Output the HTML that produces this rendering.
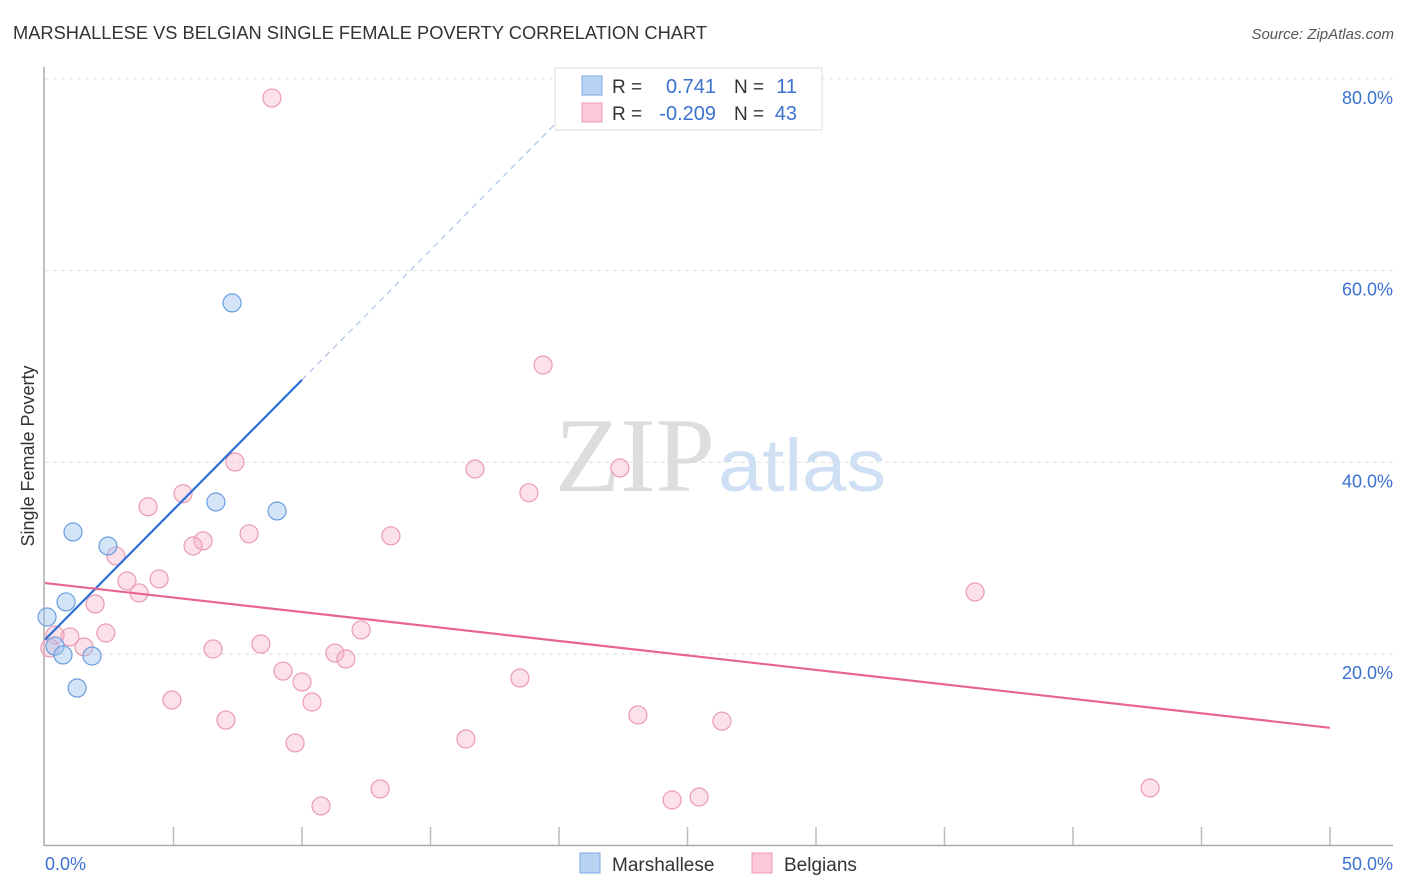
<!DOCTYPE html>
<html><head><meta charset="utf-8"><style>
body{margin:0;background:#fff;font-family:"Liberation Sans",sans-serif}
svg{display:block}
</style></head><body>
<svg id="chart" width="1406" height="892">
<text x="13" y="39" font-size="18" fill="#333" textLength="694" lengthAdjust="spacingAndGlyphs">MARSHALLESE VS BELGIAN SINGLE FEMALE POVERTY CORRELATION CHART</text>
<text x="1394" y="39" font-size="15" fill="#555" font-style="italic" text-anchor="end">Source: ZipAtlas.com</text>
<g id="grid"></g>
<text x="635" y="491" font-size="106" font-family="Liberation Serif,serif" fill="#ddd" text-anchor="middle" textLength="160" lengthAdjust="spacingAndGlyphs">ZIP</text>
<text x="802" y="491" font-size="74" fill="#cfe0f5" text-anchor="middle" textLength="168" lengthAdjust="spacingAndGlyphs">atlas</text>
<g id="marks"></g>
<text transform="translate(34,456) rotate(-90)" font-size="18" fill="#333" text-anchor="middle">Single Female Poverty</text>
<g>
<rect x="555" y="68" width="267" height="62" fill="#fff" stroke="#ddd"/>
<rect x="582" y="76" width="20" height="19" fill="#b9d3f5" stroke="#7aa7e6"/>
<rect x="582" y="103" width="20" height="19" fill="#fac8d6" stroke="#ee9ab4"/>
<text x="612" y="93" font-size="19" fill="#333">R =</text>
<text x="716" y="93" font-size="20" fill="#3b72d0" text-anchor="end">0.741</text>
<text x="734" y="93" font-size="19" fill="#333">N =</text>
<text x="797" y="93" font-size="20" fill="#3b72d0" text-anchor="end">11</text>
<text x="612" y="120" font-size="19" fill="#333">R =</text>
<text x="716" y="120" font-size="20" fill="#3b72d0" text-anchor="end">-0.209</text>
<text x="734" y="120" font-size="19" fill="#333">N =</text>
<text x="797" y="120" font-size="20" fill="#3b72d0" text-anchor="end">43</text>
</g>
<g>
<rect x="580" y="853" width="20" height="20" fill="#b9d3f5" stroke="#7aa7e6"/>
<text x="612" y="871" font-size="19" fill="#333">Marshallese</text></g>
<g>
<rect x="752" y="853" width="20" height="20" fill="#fac8d6" stroke="#ee9ab4"/>
<text x="784" y="871" font-size="19" fill="#333">Belgians</text></g>
</svg>
<script>
const blueX=[0.08,0.39,0.70,0.82,1.09,1.25,1.83,2.45,6.65,7.28,9.03];
const blueY=[23.86,20.83,19.90,25.43,32.73,16.45,19.79,31.27,35.86,56.63,34.92];
const pinkX=[8.83,19.38,7.39,16.73,22.37,18.83,5.37,4.01,13.46,7.94,6.15,5.76,2.76,4.44,3.19,3.66,36.19,1.95,12.30,2.37,0.97,0.39,0.19,1.52,8.40,6.54,11.28,11.71,9.26,10.00,18.48,10.39,4.94,7.04,23.07,26.34,9.73,16.38,13.04,10.74,24.40,25.45,43.00];
const pinkY=[78.0,50.15,40.03,39.30,39.41,36.83,36.72,35.36,32.33,32.54,31.81,31.27,30.23,27.83,27.62,26.37,26.47,25.22,22.51,22.19,21.78,21.98,20.63,20.73,21.04,20.52,20.10,19.48,18.22,17.08,17.50,14.99,15.20,13.11,13.64,13.00,10.72,11.13,5.92,4.14,4.77,5.08,6.02];
const yTicks=[20,40,60,80];
const xTickLabels=["0.0%","50.0%"];
const blueTrend=[21.5,2.71]; // intercept, slope
const pinkTrend=[27.4,-0.302];
const NS='http://www.w3.org/2000/svg';
const sx=v=>45+v*25.7, sy=v=>845.7-v*9.585;
function mk(t,a,p){const e=document.createElementNS(NS,t);for(const k in a)e.setAttribute(k,a[k]);p.appendChild(e);return e;}
const grid=document.getElementById('grid'),marks=document.getElementById('marks');
yTicks.forEach(t=>{
 const l=mk('line',{x1:45,x2:1393,y1:sy(t),y2:sy(t),stroke:'#ddd','stroke-dasharray':'4,4'},grid);
 
 
 const tx=mk('text',{x:1393,y:sy(t)+25,'font-size':18,fill:'#3b72d0','text-anchor':'end'},grid);tx.textContent=t.toFixed(1)+'%';
 
 
});
mk('line',{x1:44,x2:44,y1:67,y2:846,stroke:'#aaa','stroke-width':1.5},grid);
mk('line',{x1:44,x2:1393,y1:845.5,y2:845.5,stroke:'#aaa','stroke-width':1.5},grid);
for(let v=5;v<=50;v+=5){mk('line',{x1:sx(v),x2:sx(v),y1:827,y2:845,stroke:'#bbb','stroke-width':1.5},grid);}
let t0=mk('text',{x:45,y:870,'font-size':18,fill:'#3b72d0'},grid);t0.textContent=xTickLabels[0];


let t1=mk('text',{x:1393,y:870,'font-size':18,fill:'#3b72d0','text-anchor':'end'},grid);t1.textContent=xTickLabels[1];


pinkX.forEach((x,i)=>{const c=mk('circle',{cx:sx(x),cy:sy(pinkY[i]),r:9,fill:'rgba(248,180,200,0.4)',stroke:'#eb9ab3','stroke-width':1.2},marks);
 
 });
blueX.forEach((x,i)=>{const c=mk('circle',{cx:sx(x),cy:sy(blueY[i]),r:9,fill:'rgba(160,196,240,0.45)',stroke:'#6a9de0','stroke-width':1.2},marks);
 
 });
const bl=mk('line',{x1:sx(0),y1:sy(blueTrend[0]),x2:sx(10),y2:sy(blueTrend[0]+blueTrend[1]*10),stroke:'#2b6fd6','stroke-width':2.2},marks);


const bd=mk('line',{x1:sx(10),y1:sy(blueTrend[0]+blueTrend[1]*10),x2:sx(20.8),y2:sy(blueTrend[0]+blueTrend[1]*20.8),stroke:'#9bb8e6','stroke-width':1,'stroke-dasharray':'6,5'},marks);


const pl=mk('line',{x1:sx(0),y1:sy(pinkTrend[0]),x2:sx(50),y2:sy(pinkTrend[0]+pinkTrend[1]*50),stroke:'#e8658f','stroke-width':2.2},marks);


</script>
</body></html>
